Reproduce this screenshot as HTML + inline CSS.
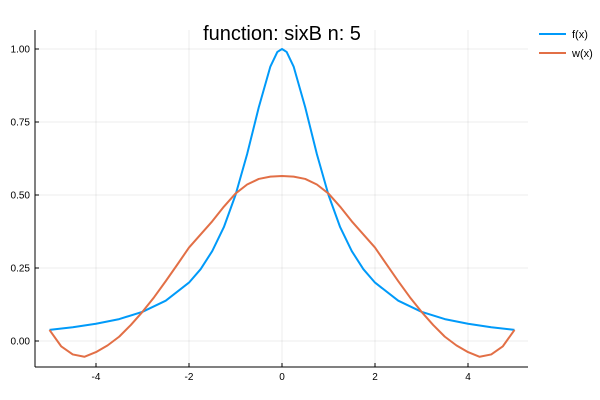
<!DOCTYPE html>
<html><head><meta charset="utf-8"><style>
body{margin:0;background:#fff;}
svg{display:block;font-family:"Liberation Sans",sans-serif;}
</style></head><body>
<svg id="chart" width="600" height="400">
<text x="282" y="40" font-size="20" text-anchor="middle">function: sixB n: 5</text>
<g id="grid"></g>
<g id="axes"></g>
<g id="series"></g>
<g>
<g><line x1="539" y1="34" x2="566" y2="34" stroke="#009af9" stroke-width="2"/><text x="572" y="38" font-size="11">f(x)</text></g>
<g><line x1="539" y1="53" x2="566" y2="53" stroke="#e26f46" stroke-width="2"/><text x="572" y="57" font-size="11">w(x)</text></g>
</g>
</svg>
<script>
const xTicks=[-4,-2,0,2,4];
const yTicks=[0,0.25,0.5,0.75,1];
const yTickLabels=["0.00","0.25","0.50","0.75","1.00"];
const fX=[-5,-4.5,-4,-3.5,-3,-2.5,-2,-1.75,-1.5,-1.25,-1,-0.75,-0.5,-0.25,-0.1,0,0.1,0.25,0.5,0.75,1,1.25,1.5,1.75,2,2.5,3,3.5,4,4.5,5];
const fY=[0.038,0.047,0.059,0.075,0.1,0.138,0.2,0.246,0.308,0.39,0.5,0.64,0.8,0.94,0.99,1,0.99,0.94,0.8,0.64,0.5,0.39,0.308,0.246,0.2,0.138,0.1,0.075,0.059,0.047,0.038];
const wX=[-5,-4.75,-4.5,-4.25,-4,-3.75,-3.5,-3.25,-3,-2.75,-2.5,-2.25,-2,-1.75,-1.5,-1.25,-1,-0.75,-0.5,-0.25,0,0.25,0.5,0.75,1,1.25,1.5,1.75,2,2.25,2.5,2.75,3,3.25,3.5,3.75,4,4.25,4.5,4.75,5];
const wY=[0.038,-0.018,-0.046,-0.054,-0.038,-0.015,0.015,0.055,0.1,0.15,0.205,0.262,0.32,0.365,0.41,0.46,0.505,0.536,0.555,0.563,0.565,0.563,0.555,0.536,0.505,0.46,0.41,0.365,0.32,0.262,0.205,0.15,0.1,0.055,0.015,-0.015,-0.038,-0.054,-0.046,-0.018,0.038];
const sx=v=>282+v*46.5, sy=v=>341-v*292;
const NS="http://www.w3.org/2000/svg";
function mk(tag,attrs,parent){const e=document.createElementNS(NS,tag);for(const k in attrs)e.setAttribute(k,attrs[k]);parent.appendChild(e);return e;}
const grid=document.getElementById('grid'),axes=document.getElementById('axes'),series=document.getElementById('series');
xTicks.forEach(t=>{
 const g=mk('line',{x1:sx(t),x2:sx(t),y1:30,y2:367,stroke:'#000','stroke-opacity':0.07},grid);
 
 
 const l=mk('text',{x:sx(t),y:380,'font-size':10,'text-anchor':'middle'},axes);l.textContent=t;
 
 
 mk('line',{x1:sx(t),x2:sx(t),y1:367,y2:363,stroke:'#000'},axes);
});
yTicks.forEach((t,i)=>{
 const g=mk('line',{x1:35,x2:528,y1:sy(t),y2:sy(t),stroke:'#000','stroke-opacity':0.07},grid);
 
 
 const l=mk('text',{x:30,y:sy(t)+3.5,'font-size':10,'text-anchor':'end'},axes);l.textContent=yTickLabels[i];
 
 
 mk('line',{x1:35,x2:39,y1:sy(t),y2:sy(t),stroke:'#000'},axes);
});
const xa=mk('line',{x1:35,x2:528,y1:367,y2:367,stroke:'#000'},axes);


const ya=mk('line',{x1:35,x2:35,y1:30,y2:367,stroke:'#000'},axes);


function line(xs,ys,color,name){
 const p=mk('polyline',{points:xs.map((x,i)=>sx(x)+','+sy(ys[i])).join(' '),fill:'none',stroke:color,'stroke-width':2,'stroke-linejoin':'round'},series);
 
 
}
line(fX,fY,'#009af9','series-f');
line(wX,wY,'#e26f46','series-w');
</script>
</body></html>
